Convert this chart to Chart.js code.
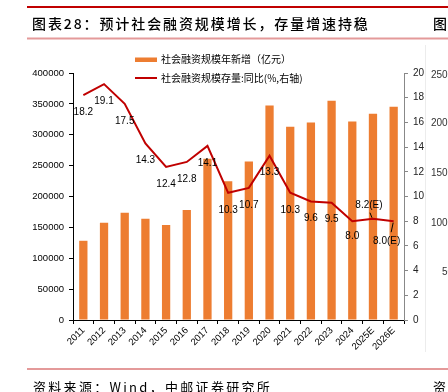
<!DOCTYPE html>
<html><head><meta charset="utf-8">
<script src="https://cdn.jsdelivr.net/npm/chart.js@4/dist/chart.umd.min.js"></script>
<style>html,body{margin:0;padding:0;background:#fff;overflow:hidden}canvas{display:block}</style>
</head><body>
<canvas id="c" width="448" height="392"></canvas>
<script>
// ---- data ----
const categories = ['2011','2012','2013','2014','2015','2016','2017','2018','2019','2020','2021','2022','2023','2024','2025E','2026E'];
const tsfIncrement = [128300,157600,173500,163800,154000,178000,261000,224500,256500,347500,312800,320000,355000,321500,334000,345500];
const tsfStockYoY = [18.2,19.1,17.5,14.3,12.4,12.8,14.1,10.3,10.7,13.3,10.3,9.6,9.5,8.0,8.2,8.0];
const seriesNames = ['社会融资规模年新增（亿元）','社会融资规模存量:同比(%,右轴)'];
const leftTicks = [0,50000,100000,150000,200000,250000,300000,350000,400000];
const rightTicks = [0,2,4,6,8,10,12,14,16,18,20];
const titleText = '图表28：预计社会融资规模增长，存量增速持稳';
const sourceText = '资料来源：Wind，中邮证券研究所';
const neighbourTicks = ['250000','200000','150000','100000','50000'];

const ORANGE = '#ED7D31', RED = '#C00000';
const CJK = '"Noto Sans CJK SC", "Noto Sans", sans-serif';
Chart.defaults.font.family = '"Liberation Sans", Arial, sans-serif';

function spacedText(ctx, str, x, y, spacing) {
  let cx = x;
  for (const ch of str) { ctx.fillText(ch, cx, y); cx += ctx.measureText(ch).width + spacing; }
}

const decor = {
  id: 'decor',
  beforeDraw(chart) {
    const ctx = chart.ctx;
    ctx.save();
    ctx.fillStyle = '#fff'; ctx.fillRect(0, 0, chart.width, chart.height);
    ctx.strokeStyle = '#ececec'; ctx.lineWidth = 1;
    ctx.beginPath(); ctx.moveTo(425.5, 45); ctx.lineTo(425.5, 352); ctx.stroke();
    ctx.restore();
  },
  afterDraw(chart) {
    const ctx = chart.ctx;
    ctx.save();
    ctx.strokeStyle = RED; ctx.lineWidth = 2;
    ctx.beginPath(); ctx.moveTo(27, 7); ctx.lineTo(448, 7); ctx.stroke();
    ctx.strokeStyle = '#E49A9A'; ctx.lineWidth = 2;
    ctx.beginPath(); ctx.moveTo(27, 38.5); ctx.lineTo(448, 38.5); ctx.stroke();
    ctx.beginPath(); ctx.moveTo(27, 369); ctx.lineTo(448, 369); ctx.stroke();
    // title
    ctx.fillStyle = '#000'; ctx.textBaseline = 'middle'; ctx.textAlign = 'left';
    ctx.font = '500 14px ' + CJK;
    spacedText(ctx, titleText, 32, 24, 1.9);
    ctx.fillText('图', 433, 24);
    // source
    ctx.font = '13px ' + CJK;
    spacedText(ctx, sourceText, 33, 387, 2.3);
    ctx.fillText('资', 433, 387);
    // neighbour axis labels (cut off at the edge)
    ctx.font = '10px "Liberation Sans", Arial, sans-serif';
    ctx.fillStyle = '#333'; ctx.textAlign = 'left';
    const ny = [75, 123, 173, 223, 272];
    neighbourTicks.forEach((t, i) => { ctx.fillText(t, i === 4 ? 442 : 431, ny[i]); });
    // legend
    ctx.fillStyle = ORANGE; ctx.fillRect(135, 57.5, 22, 4.5);
    ctx.strokeStyle = RED; ctx.lineWidth = 2;
    ctx.beginPath(); ctx.moveTo(135, 78); ctx.lineTo(157, 78); ctx.stroke();
    ctx.fillStyle = '#000'; ctx.font = '10px ' + CJK;
    ctx.fillText(chart.data.datasets[0].label, 161, 59.5);
    ctx.fillText(chart.data.datasets[1].label, 161, 78.5);
    ctx.restore();
  },
  afterDatasetsDraw(chart) {
    const ctx = chart.ctx;
    const meta = chart.getDatasetMeta(1);
    const vals = chart.data.datasets[1].data;
    const special = {13: {dx: 0, dy: 15}, 14: {dx: -4, dy: -13, lead: [-3, -6, -1, -1]}, 15: {dx: -7, dy: 20, lead: [-2.5, 11, -0.5, 1.5]}};
    ctx.save();
    ctx.font = '10px "Liberation Sans", Arial, sans-serif';
    ctx.fillStyle = '#000'; ctx.textAlign = 'center'; ctx.textBaseline = 'middle';
    meta.data.forEach((pt, i) => {
      const s = special[i] || {dx: 0, dy: 17};
      const lab = vals[i].toFixed(1) + (chart.data.labels[i].endsWith('E') ? '(E)' : '');
      ctx.fillText(lab, pt.x + s.dx, pt.y + s.dy);
      if (s.lead) {
        ctx.strokeStyle = '#000'; ctx.lineWidth = 1;
        ctx.beginPath(); ctx.moveTo(pt.x + s.lead[0], pt.y + s.lead[1]); ctx.lineTo(pt.x + s.lead[2], pt.y + s.lead[3]); ctx.stroke();
      }
    });
    ctx.restore();
  }
};

new Chart(document.getElementById('c'), {
  data: {
    labels: categories,
    datasets: [
      {type: 'bar', label: seriesNames[0], data: tsfIncrement, yAxisID: 'y', backgroundColor: ORANGE,
       barPercentage: 0.5, categoryPercentage: 0.8, order: 1},
      {type: 'line', label: seriesNames[1], data: tsfStockYoY, yAxisID: 'y1', borderColor: RED, borderWidth: 2,
       pointRadius: 0, tension: 0, fill: false, order: 0}
    ]
  },
  options: {
    responsive: false, devicePixelRatio: 1, animation: false,
    layout: {padding: {top: 73, left: 0, right: 0, bottom: 0}},
    plugins: {legend: {display: false}, title: {display: false}, tooltip: {enabled: false}},
    scales: {
      x: {
        offset: true,
        grid: {display: true, drawOnChartArea: false, tickLength: 4, color: '#000', offset: true},
        border: {color: '#000', width: 1},
        ticks: {minRotation: 45, maxRotation: 45, autoSkip: false, color: '#000', padding: 1, font: {size: 9.5}},
        afterFit(s) { s.height = 72; }
      },
      y: {
        position: 'left', min: 0, max: 400000,
        afterBuildTicks(s) { s.ticks = leftTicks.map(v => ({value: v})); },
        grid: {display: true, drawOnChartArea: false, tickLength: 4, color: '#000'},
        border: {color: '#000', width: 1},
        ticks: {color: '#000', padding: 5, font: {size: 9.5}, callback: v => String(v)},
        afterFit(s) { s.width = 73; }
      },
      y1: {
        position: 'right', min: 0, max: 20,
        afterBuildTicks(s) { s.ticks = rightTicks.map(v => ({value: v})); },
        grid: {display: true, drawOnChartArea: false, tickLength: 4, color: '#888'},
        border: {color: '#888', width: 1},
        ticks: {color: '#222', padding: 5, font: {size: 10}, callback: v => String(v)},
        afterFit(s) { s.width = 44; }
      }
    }
  },
  plugins: [decor]
});
</script>
</body></html>
